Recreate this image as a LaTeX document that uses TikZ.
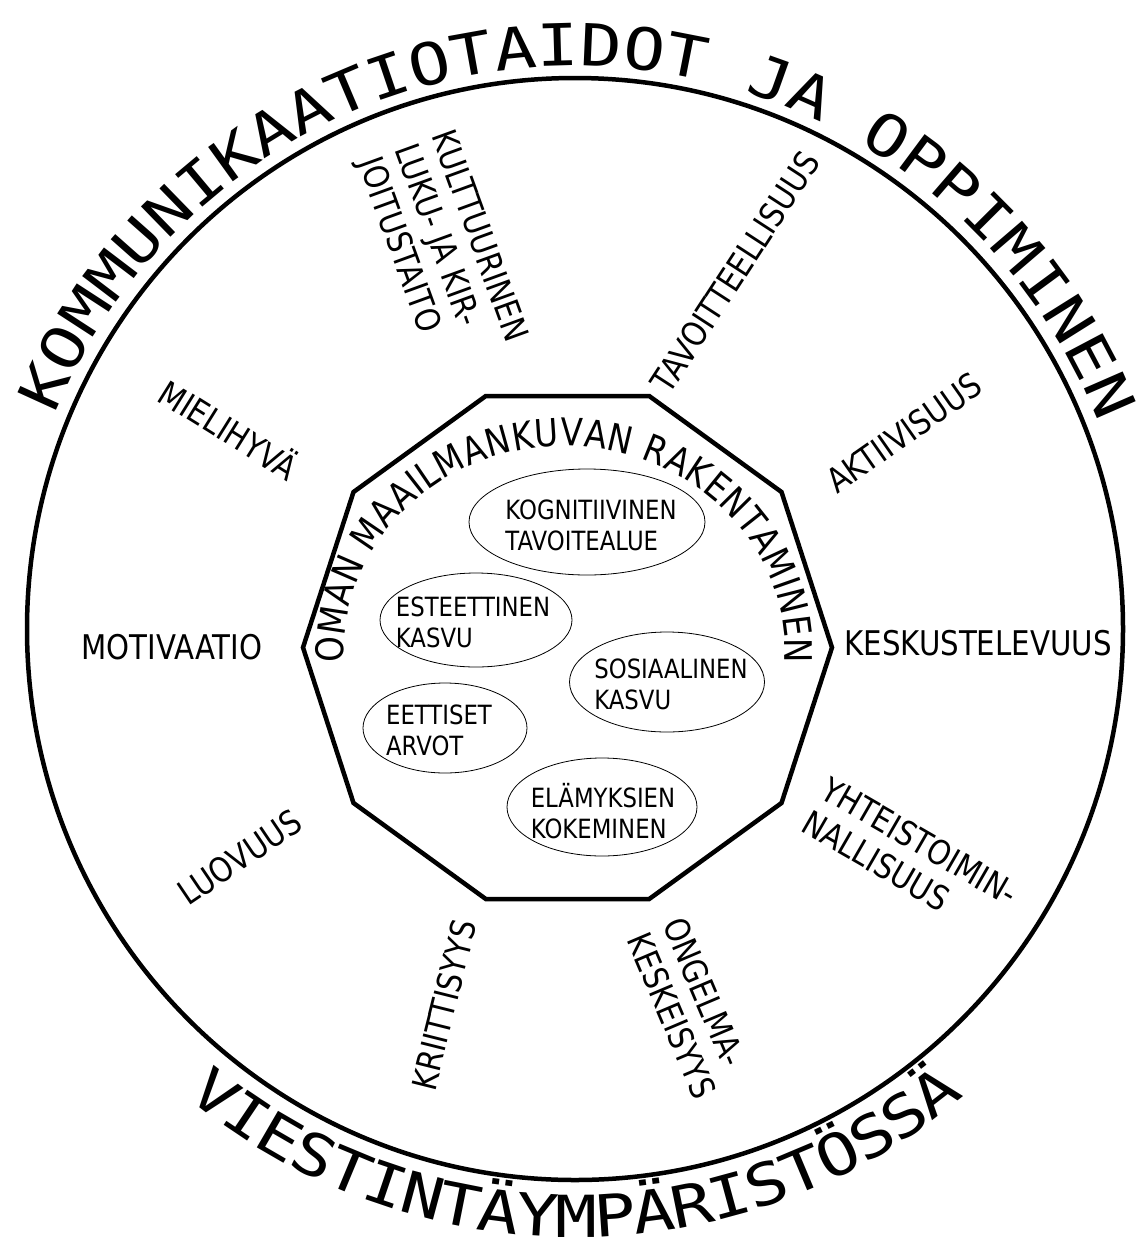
\documentclass[tikz,border=0pt]{standalone}
\usepackage{fontspec}
\usetikzlibrary{shapes.geometric,decorations.text}
\newfontfamily\lblfont[FakeStretch=0.86]{DejaVu Sans}
\newfontfamily\ringfont[FakeStretch=1.2]{DejaVu Sans Mono}
\begin{document}
\begin{tikzpicture}[x=1pt,y=-1pt,
  lbl/.style={font=\lblfont\fontsize{34}{39}\selectfont, inner sep=0pt, align=left},
  ovalshape/.style={draw, ellipse, line width=0.8pt, inner sep=0pt},
  ovaltext/.style={font=\lblfont\fontsize{26.5}{31}\selectfont, inner sep=0pt, align=left},
  ringletter/.style={font=\ringfont\fontsize{58}{58}\selectfont, inner sep=0pt, anchor=base},
  heavy/.style={line width=4.5pt},
]
\useasboundingbox (0,0) rectangle (1138,1251);
\fill[white] (0,0) rectangle (1138,1251);

% outer ring
\draw[heavy] (575,629) ellipse [x radius=548, y radius=551];

% decagon
\draw[heavy, line join=miter] (832,647.5) -- (781.5,492) -- (649.2,396) -- (485.8,396) -- (353.5,492)
  -- (303,647.5) -- (353.5,803) -- (485.8,899) -- (649.2,899) -- (781.5,803) -- cycle;

% top ring text
\foreach \i/\ch in {0/K,1/O,2/M,3/M,4/U,5/N,6/I,7/K,8/A,9/A,10/T,11/I,12/O,13/T,14/A,15/I,16/D,17/O,18/T,20/J,21/A,23/O,24/P,25/P,26/I,27/M,28/I,29/N,30/E,31/N}{
  \pgfmathsetmacro\a{155.5-4.255*\i}
  \node[ringletter, rotate=\a-90] (top\i) at ({575+563*cos(\a)}, {629-563*sin(\a)}) {\ch};
}
% bottom ring text
\foreach \i/\ch in {0/V,1/I,2/E,3/S,4/T,5/I,6/N,7/T,8/Ä,9/Y,10/M,11/P,12/Ä,13/R,14/I,15/S,16/T,17/Ö,18/S,19/S,20/Ä}{
  \pgfmathsetmacro\a{232.3+3.78*\i}
  \node[ringletter, rotate=\a+90] (bot\i) at ({575+608*cos(\a)}, {629-608*sin(\a)}) {\ch};
}

% inner arc text
\path[decorate, decoration={text along path, text align={fit to path},
  text={|\lblfont\fontsize{38}{38}\selectfont|OMAN MAAILMANKUVAN RAKENTAMINEN}}]
  ({564.5+220.5*cos(177)}, {652+206*sin(177)}) arc[start angle=177, end angle=363, x radius=220.5, y radius=206];

% ellipses
\node[ovalshape, minimum width=236pt, minimum height=106pt] (kog) at (587,522) {};
\node[ovaltext] (kogt) at (591,525) {KOGNITIIVINEN\\TAVOITEALUE};
\node[ovalshape, minimum width=192pt, minimum height=94pt] (est) at (476,620) {};
\node[ovaltext] (estt) at (473,622) {ESTEETTINEN\\KASVU};
\node[ovalshape, minimum width=195pt, minimum height=100pt] (sos) at (667,682) {};
\node[ovaltext] (sost) at (671,684) {SOSIAALINEN\\KASVU};
\node[ovalshape, minimum width=164pt, minimum height=90pt] (eet) at (445,728) {};
\node[ovaltext] (eett) at (439,730) {EETTISET\\ARVOT};
\node[ovalshape, minimum width=190pt, minimum height=98pt] (ela) at (602,807) {};
\node[ovaltext] (elat) at (603,811) {ELÄMYKSIEN\\KOKEMINEN};

% spoke labels
\node[lbl, rotate=-70] (kult) at (441,250) {KULTTUURINEN\\LUKU- JA KIR-\\JOITUSTAITO};
\node[lbl, rotate=57] (tavo) at (735,272) {TAVOITTEELLISUUS};
\node[lbl, rotate=35] (akti) at (904,433) {AKTIIVISUUS};
\node[lbl] (kesk) at (978,643) {KESKUSTELEVUUS};
\node[lbl, rotate=-30] (yhte) at (910,858) {YHTEISTOIMIN-\\NALLISUUS};
\node[lbl, rotate=-67] (onge) at (690,1008) {ONGELMA-\\KESKEISYYS};
\node[lbl, rotate=76] (krii) at (444,1005) {KRIITTISYYS};
\node[lbl, rotate=34] (luov) at (240,857) {LUOVUUS};
\node[lbl] (moti) at (172,647) {MOTIVAATIO};
\node[lbl, rotate=-32] (miel) at (230,428) {MIELIHYVÄ};
\end{tikzpicture}
\end{document}
